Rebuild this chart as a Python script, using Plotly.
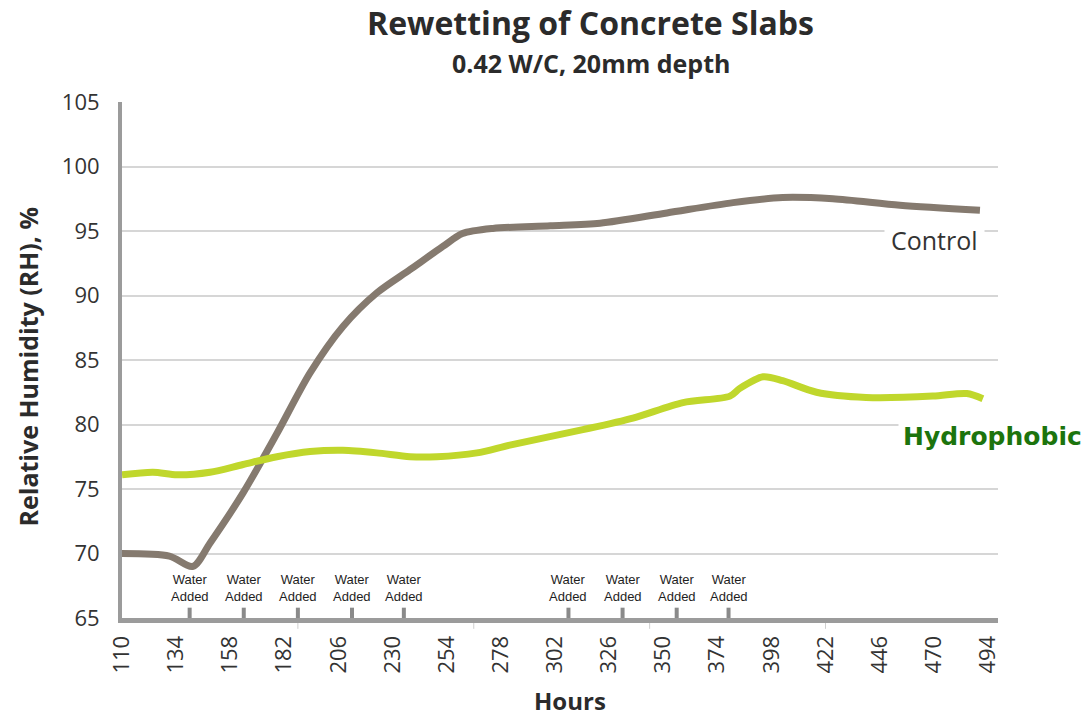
import plotly.graph_objects as go

# Relative humidity readings (hours since casting vs. RH %)
control_hours = [110, 131, 141.5, 149, 163.7, 178.7, 193.4, 208, 223, 237.7, 252.3,
                 261, 274.5, 300, 322, 351.7, 381, 403, 425.3, 455, 490.5]
control_rh = [70.0, 69.8, 69.0, 70.8, 74.7, 79.3, 84.0, 87.6, 90.2, 92.0, 93.8,
              94.8, 95.2, 95.4, 95.6, 96.4, 97.2, 97.6, 97.5, 97.0, 96.6]

hydro_hours = [110, 123.7, 134.4, 149, 163.7, 178.7, 193.4, 208, 223, 237.7, 249.7,
               267.4, 282, 314.4, 336.6, 358.8, 379.6, 384, 394.3, 403, 418, 440,
               469.6, 484.7, 491.8]
hydro_rh = [76.1, 76.3, 76.1, 76.3, 76.9, 77.5, 77.9, 78.0, 77.8, 77.5, 77.5,
            77.8, 78.4, 79.6, 80.5, 81.7, 82.2, 82.8, 83.7, 83.4, 82.5, 82.1,
            82.2, 82.4, 82.0]

# Times at which water was added to the slabs
water_hours = [140, 164, 188, 212, 235, 308, 332, 356, 379]

x_ticks = [110, 134, 158, 182, 206, 230, 254, 278, 302, 326, 350, 374, 398, 422, 446, 470, 494]
y_ticks = [65, 70, 75, 80, 85, 90, 95, 100, 105]
minor_ticks = [188, 266, 344, 422]

CONTROL_COLOR = "#857a6f"
HYDRO_COLOR = "#c0d72c"
AXIS_COLOR = "#9b9b9b"
TEXT_COLOR = "#2b2b2b"
FONT = "Open Sans, sans-serif"

fig = go.Figure()

fig.add_trace(go.Scatter(
    x=control_hours, y=control_rh, mode="lines", name="Control",
    line=dict(color=CONTROL_COLOR, width=7, shape="spline", smoothing=0.8),
    showlegend=False, hoverinfo="x+y",
))
fig.add_trace(go.Scatter(
    x=hydro_hours, y=hydro_rh, mode="lines", name="Hydrophobic",
    line=dict(color=HYDRO_COLOR, width=7, shape="spline", smoothing=0.8),
    showlegend=False, hoverinfo="x+y",
))

annotations = [
    dict(text="<b>Rewetting of Concrete Slabs</b>", xref="paper", yref="paper",
         x=0.535, y=1.155, xanchor="center", yanchor="middle", showarrow=False,
         font=dict(family=FONT, size=32, color=TEXT_COLOR)),
    dict(text="<b>0.42 W/C, 20mm depth</b>", xref="paper", yref="paper",
         x=0.535, y=1.076, xanchor="center", yanchor="middle", showarrow=False,
         font=dict(family=FONT, size=25, color=TEXT_COLOR)),
    dict(text="<b>Relative Humidity (RH), %</b>", xref="paper", yref="paper",
         x=-0.107, y=0.486, xanchor="center", yanchor="middle", textangle=-90,
         showarrow=False, font=dict(family=FONT, size=25, color=TEXT_COLOR)),
    dict(text="<b>Hours</b>", xref="paper", yref="paper",
         x=0.511, y=-0.1935, xanchor="center", yanchor="bottom", showarrow=False,
         borderpad=0, font=dict(family=FONT, size=24, color=TEXT_COLOR)),
    dict(text="Control", xref="x", yref="y", x=470.5, y=94.3,
         xanchor="center", yanchor="middle", showarrow=False, bgcolor="white",
         borderpad=6, font=dict(family=FONT, size=25, color="#333333")),
    dict(text="<b>Hydrophobic</b>", xref="x", yref="y", x=496.2, y=79.1,
         xanchor="center", yanchor="middle", showarrow=False, bgcolor="white",
         borderpad=4, font=dict(family="DejaVu Sans, sans-serif", size=25, color="#1c740d")),
]
for h in water_hours:
    annotations.append(dict(
        text="Water<br>Added", xref="x", yref="paper", x=h, y=0.058,
        xanchor="center", yanchor="middle", showarrow=False,
        font=dict(family="Liberation Sans Narrow, Liberation Sans, sans-serif",
                  size=13, color="#1e1e1e"),
    ))

# short marks on the hour axis: water additions (up) and faint reference ticks (down)
shapes = []
for h in water_hours:
    shapes.append(dict(type="line", xref="x", yref="paper", x0=h, x1=h, y0=0, y1=0.02,
                       line=dict(color="#8a8a8a", width=4), layer="above"))
for h in minor_ticks:
    shapes.append(dict(type="line", xref="x", yref="paper", x0=h, x1=h, y0=0, y1=-0.021,
                       line=dict(color="#cfcfcf", width=1), layer="below"))

fig.update_layout(
    width=1090, height=718,
    margin=dict(l=122, r=92, t=102, b=100),
    paper_bgcolor="white", plot_bgcolor="white",
    font=dict(family=FONT, color=TEXT_COLOR),
    annotations=annotations,
    shapes=shapes,
    xaxis=dict(
        range=[110, 498.5], tickmode="array", tickvals=x_ticks,
        ticktext=[str(t) for t in x_ticks], tickangle=-90,
        tickfont=dict(family=FONT, size=22, color="#333333"),
        ticks="", ticklabelstandoff=4,
        showgrid=False, zeroline=False,
        showline=True, linecolor=AXIS_COLOR, linewidth=5,
    ),
    yaxis=dict(
        range=[65, 105], tickmode="array", tickvals=y_ticks,
        tickfont=dict(family=FONT, size=22, color="#333333"),
        ticks="", ticklabelstandoff=14,
        showgrid=True, gridcolor="#d6d6d6", gridwidth=1.5, zeroline=False,
        showline=True, linecolor=AXIS_COLOR, linewidth=4,
    ),
)

fig.write_html("out.html")
